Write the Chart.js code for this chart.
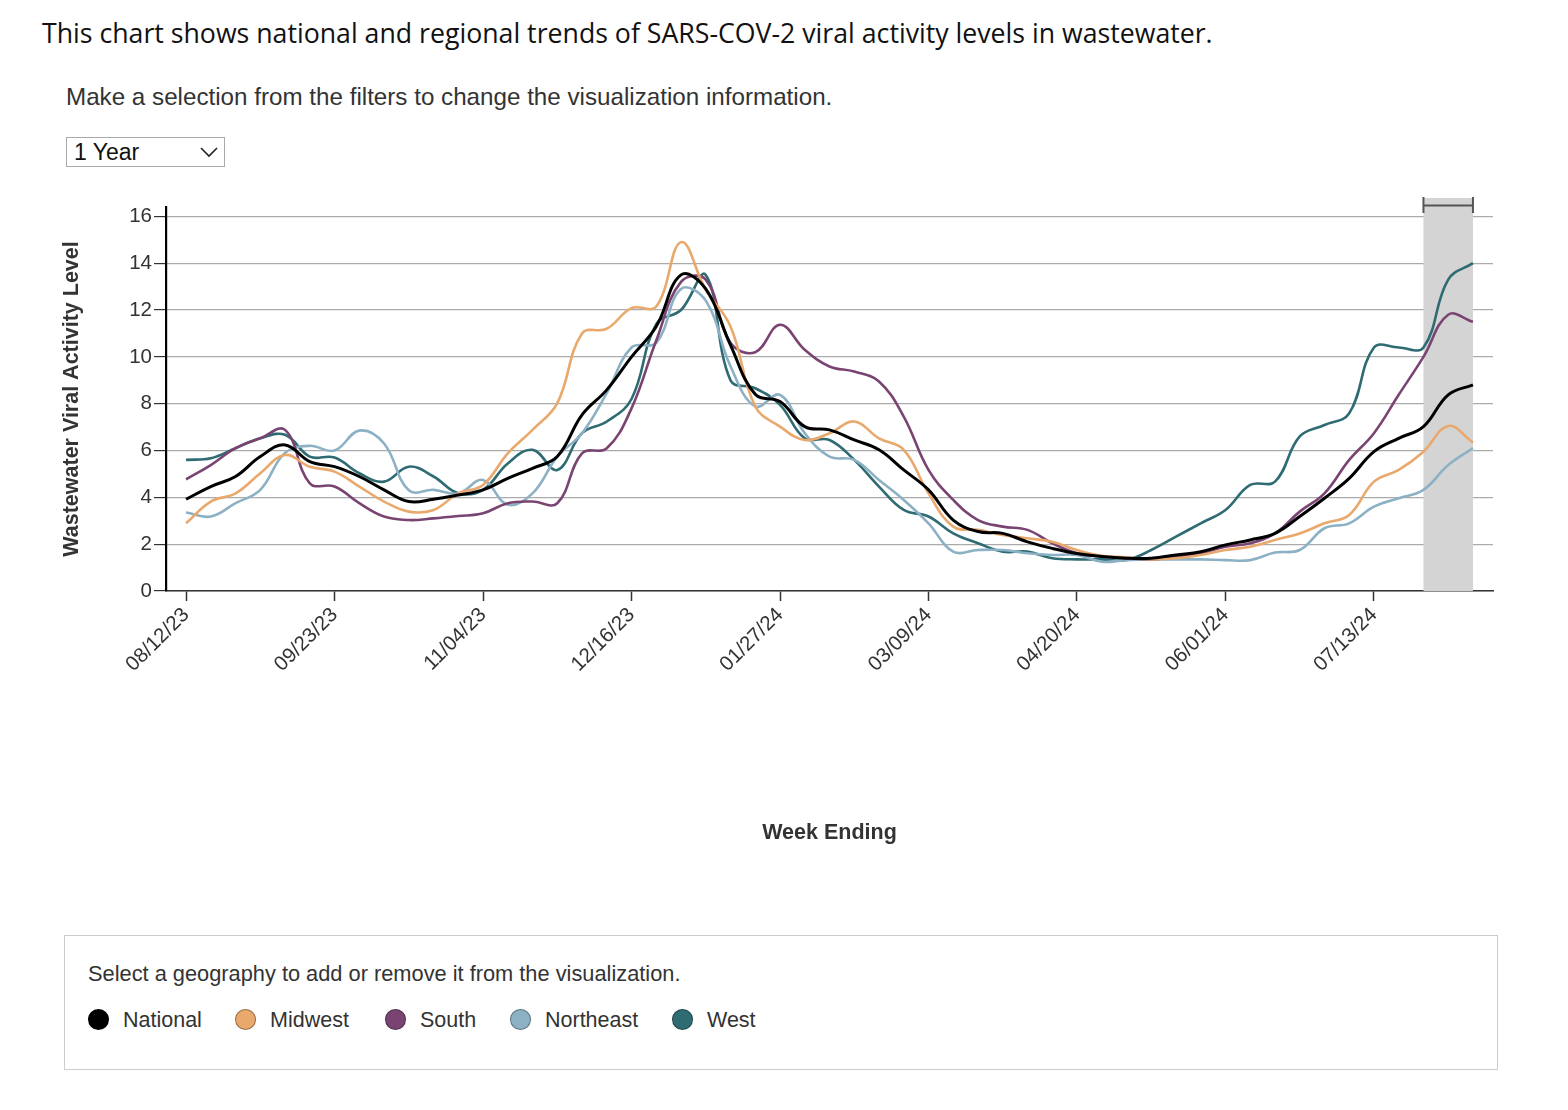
<!DOCTYPE html>
<html>
<head>
<meta charset="utf-8">
<script src="https://cdn.jsdelivr.net/npm/chart.js@4.4.1/dist/chart.umd.min.js"></script>
<style>
  body { margin: 0; background: #fff; font-family: "Liberation Sans", Arial, sans-serif; }
  #page { position: relative; width: 1568px; height: 1110px; }
  .intro { position: absolute; left: 42px; top: 14px; font-family: "Open Sans", sans-serif; font-size: 26.7px; color: #111; white-space: nowrap; }
  .hint { position: absolute; left: 66px; top: 83px; font-size: 24.2px; color: #333; white-space: nowrap; }
  .select { position: absolute; left: 66px; top: 137px; width: 159px; height: 30px; border: 1px solid #aaa; box-sizing: border-box; }
  .select span { position: absolute; left: 7px; top: 1px; font-size: 23px; color: #111; }
  .select svg { position: absolute; right: 6px; top: 9px; }
  #chartWrap { position: absolute; left: 0; top: 180px; width: 1568px; height: 700px; }
  .legendBox { position: absolute; left: 64px; top: 935px; width: 1434px; height: 135px; border: 1px solid #ccc; box-sizing: border-box; }
  .legendBox .lbl { position: absolute; left: 23px; top: 25px; font-size: 21.8px; color: #333; white-space: nowrap; }
  .item { position: absolute; top: 72px; font-size: 21.5px; color: #333; white-space: nowrap; }
  .dot { position: absolute; left: 0; top: 1px; width: 21px; height: 21px; border-radius: 50%; box-sizing: border-box; border: 1px solid rgba(0,0,0,0.35); }
  .item .t { position: absolute; left: 35px; top: 0; }
</style>
</head>
<body>
<div id="page">
  <div class="intro">This chart shows national and regional trends of SARS-COV-2 viral activity levels in wastewater.</div>
  <div class="hint">Make a selection from the filters to change the visualization information.</div>
  <div class="select"><span>1 Year</span>
    <svg width="18" height="11" viewBox="0 0 18 11"><polyline points="1,1 9,9 17,1" fill="none" stroke="#222" stroke-width="1.6"/></svg>
  </div>
  <div id="chartWrap"><canvas id="chart" width="1568" height="700"></canvas></div>
  <div class="legendBox">
    <div class="lbl">Select a geography to add or remove it from the visualization.</div>
    <div id="legendItems"></div>
  </div>
</div>
<script>
const weekEnding = [
  "08/12/23","08/19/23","08/26/23","09/02/23","09/09/23","09/16/23","09/23/23","09/30/23","10/07/23","10/14/23",
  "10/21/23","10/28/23","11/04/23","11/11/23","11/18/23","11/25/23","12/02/23","12/09/23","12/16/23","12/23/23",
  "12/30/23","01/06/24","01/13/24","01/20/24","01/27/24","02/03/24","02/10/24","02/17/24","02/24/24","03/02/24",
  "03/09/24","03/16/24","03/23/24","03/30/24","04/06/24","04/13/24","04/20/24","04/27/24","05/04/24","05/11/24",
  "05/18/24","05/25/24","06/01/24","06/08/24","06/15/24","06/22/24","06/29/24","07/06/24","07/13/24","07/20/24",
  "07/27/24","08/03/24","08/10/24"
];
const tickLabels = ["08/12/23","09/23/23","11/04/23","12/16/23","01/27/24","03/09/24","04/20/24","06/01/24","07/13/24"];
const yTicks = [0, 2, 4, 6, 8, 10, 12, 14, 16];

const national = [3.92,4.46,4.89,5.74,6.24,5.53,5.31,4.89,4.32,3.82,3.92,4.10,4.32,4.81,5.24,5.74,7.52,8.59,10.0,11.3,
  13.5,12.9,10.5,8.4,8.09,7.02,6.88,6.45,6.03,5.17,4.32,3.03,2.54,2.46,2.1,1.82,1.6,1.47,1.4,1.4,
  1.54,1.68,1.97,2.18,2.46,3.18,3.96,4.81,5.95,6.52,7.02,8.38,8.8];
const midwest = [2.89,3.82,4.17,5.03,5.81,5.31,5.10,4.46,3.82,3.39,3.46,4.17,4.53,5.88,6.88,8.02,11.0,11.2,12.08,12.15,
  14.9,12.86,11.3,7.88,7.02,6.45,6.74,7.24,6.52,6.03,4.17,2.75,2.61,2.39,2.25,2.1,1.75,1.5,1.44,1.35,
  1.4,1.54,1.75,1.89,2.18,2.46,2.89,3.25,4.67,5.17,5.95,7.05,6.34];
const south = [4.77,5.38,6.1,6.52,6.88,4.6,4.46,3.75,3.18,3.03,3.1,3.2,3.32,3.75,3.82,3.75,5.88,6.1,7.8,10.7,
  13.2,13.3,10.6,10.2,11.37,10.3,9.59,9.37,8.95,7.45,5.17,3.89,3.03,2.75,2.61,2.04,1.61,1.47,1.4,1.35,
  1.44,1.61,1.89,2.04,2.46,3.39,4.17,5.6,6.74,8.38,10.0,11.8,11.5];
const northeast = [3.35,3.18,3.75,4.32,5.9,6.2,6.0,6.85,6.3,4.3,4.32,4.17,4.74,3.68,4.17,5.74,6.74,8.45,10.4,10.6,
  12.9,12.4,9.6,7.88,8.38,6.74,5.74,5.6,4.74,3.89,2.89,1.68,1.75,1.75,1.61,1.54,1.54,1.25,1.32,1.35,
  1.35,1.35,1.32,1.32,1.64,1.75,2.68,2.89,3.6,3.96,4.32,5.38,6.1];
const west = [5.6,5.67,6.1,6.52,6.67,5.74,5.7,5.03,4.67,5.31,4.89,4.17,4.32,5.45,6.03,5.17,6.74,7.24,8.2,11.4,
  12.0,13.5,9.0,8.66,7.95,6.52,6.45,5.6,4.46,3.46,3.18,2.46,2.04,1.68,1.68,1.4,1.35,1.35,1.32,1.75,
  2.32,2.89,3.46,4.53,4.67,6.6,7.09,7.59,10.4,10.4,10.4,13.3,14.0];

const seriesNames = ["National", "Midwest", "South", "Northeast", "West"];
const seriesColors = ["#000000", "#e9a86c", "#7a4472", "#8db1c4", "#2e6b72"];
const seriesValues = [national, midwest, south, northeast, west];
const shadedWeeks = [50, 52];

// legend (html)
const legendPos = [23, 170, 320, 445, 607];
const legendItems = document.getElementById("legendItems");
seriesNames.forEach((name, i) => {
  const el = document.createElement("div");
  el.className = "item";
  el.style.left = legendPos[i] + "px";
  el.innerHTML = `<div class="dot" style="background:${seriesColors[i]}"></div><span class="t">${name}</span>`;
  legendItems.appendChild(el);
});

const shadePlugin = {
  id: "shade",
  beforeDatasetsDraw(chart) {
    const { ctx, chartArea, scales } = chart;
    const x1 = scales.x.getPixelForValue(shadedWeeks[0]);
    const x2 = scales.x.getPixelForValue(shadedWeeks[1]);
    ctx.save();
    ctx.fillStyle = "#d4d4d4";
    ctx.fillRect(x1, chartArea.top - 9, x2 - x1, chartArea.bottom - chartArea.top + 9);
    ctx.strokeStyle = "#555";
    ctx.lineWidth = 2;
    ctx.beginPath();
    ctx.moveTo(x1, chartArea.top - 1.5);
    ctx.lineTo(x2, chartArea.top - 1.5);
    ctx.moveTo(x1, chartArea.top - 10);
    ctx.lineTo(x1, chartArea.top + 6);
    ctx.moveTo(x2, chartArea.top - 10);
    ctx.lineTo(x2, chartArea.top + 6);
    ctx.stroke();
    ctx.restore();
  }
};

new Chart(document.getElementById("chart"), {
  type: "line",
  data: {
    datasets: seriesNames.map((name, i) => ({
      label: name,
      data: seriesValues[i].map((v, k) => ({ x: k, y: v })),
      borderColor: seriesColors[i],
      borderWidth: i === 0 ? 3 : 2.6,
      pointRadius: 0,
      tension: 0.4,
      fill: false,
      order: i === 0 ? 0 : 1
    }))
  },
  options: {
    responsive: false,
    animation: false,
    layout: { padding: { left: 0, right: 75, top: 27, bottom: 0 } },
    scales: {
      x: {
        type: "linear",
        min: -0.81,
        max: 52.81,
        afterBuildTicks: scale => {
          scale.ticks = tickLabels.map(l => ({ value: weekEnding.indexOf(l) }));
        },
        afterFit: scale => { scale.height = 289; },
        ticks: {
          autoSkip: false,
          minRotation: 45,
          maxRotation: 45,
          padding: 2,
          color: "#333",
          font: { family: "Liberation Sans", size: 20.5 },
          callback: v => weekEnding[v]
        },
        grid: { drawOnChartArea: false, drawTicks: true, tickLength: 10, tickColor: "#333", tickWidth: 1.5 },
        border: { color: "#333", width: 1.5 },
        title: {
          display: true,
          text: "Week Ending",
          color: "#333",
          font: { family: "Liberation Sans", size: 21.5, weight: "bold" },
          padding: { top: 0, bottom: 34 }
        }
      },
      y: {
        min: 0,
        max: 16.4,
        afterBuildTicks: scale => {
          scale.ticks = yTicks.map(v => ({ value: v }));
        },
        afterFit: scale => { scale.width = 166; },
        ticks: {
          padding: 2,
          color: "#333",
          font: { family: "Liberation Sans", size: 20.5 }
        },
        grid: { color: "#ababab", lineWidth: 1.2, tickLength: 12, tickColor: "#333", tickWidth: 1.2 },
        border: { color: "#000", width: 2.2 },
        title: {
          display: true,
          text: "Wastewater Viral Activity Level",
          color: "#333",
          font: { family: "Liberation Sans", size: 21.5, weight: "bold" },
          padding: { top: 59, bottom: 0 }
        }
      }
    },
    plugins: {
      legend: { display: false },
      tooltip: { enabled: false }
    }
  },
  plugins: [shadePlugin]
});
</script>
</body>
</html>
